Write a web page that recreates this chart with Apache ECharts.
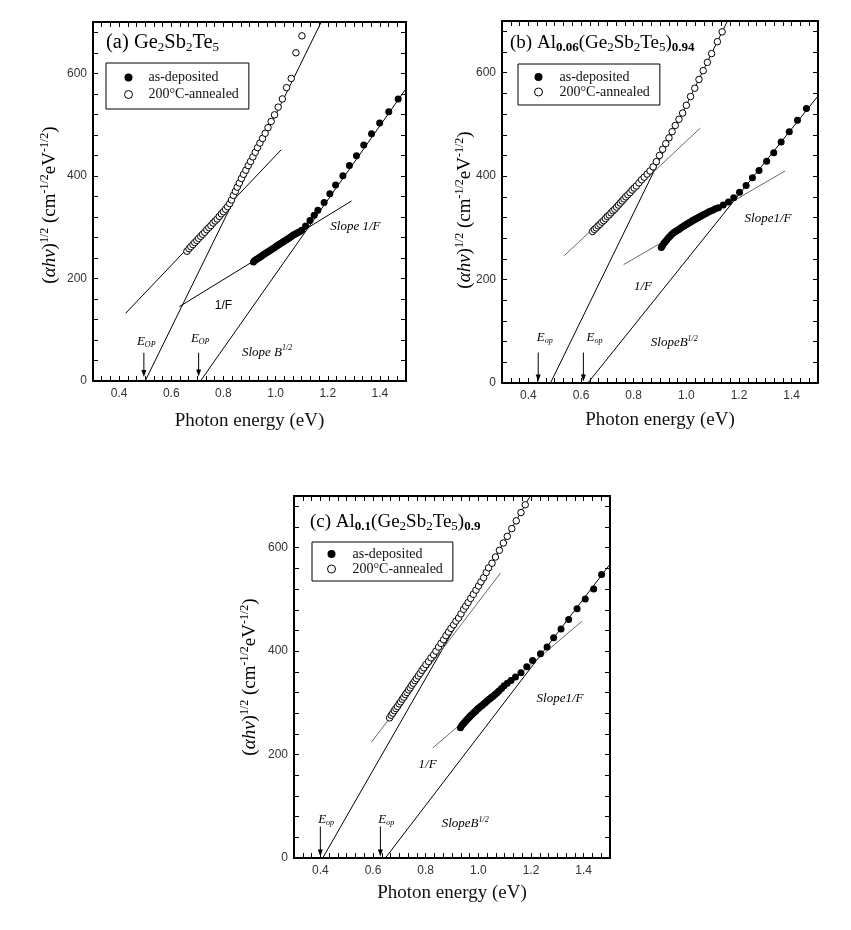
<!DOCTYPE html>
<html><head><meta charset="utf-8">
<script src="https://cdn.jsdelivr.net/npm/echarts@6/dist/echarts.min.js"></script>
<style>html,body{margin:0;padding:0;background:#fff}#c{width:851px;height:930px}</style>
</head><body><div id="c"></div>
<script>
// ---------- data ----------
const xTickLabels = ['0.4','0.6','0.8','1.0','1.2','1.4'];
const yTickLabels = ['0','200','400','600'];
const legendNames = ['as-deposited','200°C-annealed'];

// Panel (a) Ge2Sb2Te5
const annealA = [[0.660,253],[0.668,258],[0.675,262],[0.683,266],[0.690,270],[0.698,274],[0.705,278],[0.713,282],[0.720,286],[0.728,290],[0.736,295],[0.744,299],[0.752,303],[0.760,308],[0.768,312],[0.776,316],[0.784,321],[0.792,326],[0.800,330],[0.808,335],[0.816,340],[0.824,346],[0.831,353],[0.838,362],[0.846,370],[0.853,378],[0.861,386],[0.869,395],[0.877,403],[0.886,411],[0.895,420],[0.904,428],[0.913,437],[0.922,446],[0.931,455],[0.940,464],[0.950,473],[0.960,483],[0.971,494],[0.983,506],[0.996,519],[1.010,534],[1.026,550],[1.042,572],[1.060,590],[1.078,640],[1.101,673]];
const depA = [[0.915,232],[0.920,235],[0.926,237],[0.932,239],[0.938,241],[0.944,243],[0.950,245],[0.956,247],[0.962,249],[0.968,251],[0.974,253],[0.980,255],[0.986,257],[0.992,259],[0.998,261],[1.004,263],[1.010,265],[1.016,267],[1.022,269],[1.028,271],[1.034,273],[1.040,275],[1.046,277],[1.052,279],[1.058,281],[1.064,283],[1.070,285],[1.077,287],[1.084,289],[1.092,291],[1.100,294],[1.115,302],[1.132,313],[1.148,323],[1.162,333],[1.186,348],[1.208,365],[1.230,382],[1.258,400],[1.283,420],[1.310,439],[1.338,460],[1.368,482],[1.399,503],[1.434,525],[1.470,550]];
const steepAnnA = [[0.500,0],[1.175,700]];
const shallowAnnA = [[0.425,132],[1.022,451]];
const steepDepA = [[0.712,0],[1.500,570]];
const shallowDepA = [[0.631,145],[1.291,351]];

// Panel (b) Al0.06(Ge2Sb2Te5)0.94
const annealB = [[0.644,293],[0.651,297],[0.658,300],[0.665,304],[0.672,307],[0.679,311],[0.686,314],[0.693,318],[0.700,322],[0.707,325],[0.714,329],[0.721,333],[0.728,336],[0.735,340],[0.742,344],[0.749,348],[0.756,352],[0.763,356],[0.770,360],[0.778,364],[0.786,368],[0.794,373],[0.802,377],[0.810,381],[0.820,387],[0.830,393],[0.840,398],[0.851,404],[0.862,410],[0.874,418],[0.886,428],[0.898,440],[0.910,452],[0.922,463],[0.934,474],[0.946,486],[0.958,498],[0.972,510],[0.986,522],[1.000,537],[1.016,554],[1.032,570],[1.048,587],[1.064,604],[1.080,620],[1.096,637],[1.118,660],[1.136,679]];
const depB = [[0.905,262],[0.910,266],[0.915,270],[0.920,273],[0.926,277],[0.932,281],[0.938,284],[0.944,287],[0.950,290],[0.956,292],[0.962,294],[0.968,296],[0.974,298],[0.980,300],[0.986,302],[0.992,304],[0.998,306],[1.004,308],[1.010,310],[1.017,312],[1.024,314],[1.031,316],[1.038,318],[1.045,320],[1.052,322],[1.059,324],[1.066,326],[1.074,328],[1.082,330],[1.090,332],[1.100,334],[1.110,337],[1.122,339],[1.140,344],[1.160,350],[1.180,358],[1.202,369],[1.227,382],[1.251,397],[1.276,411],[1.305,429],[1.332,445],[1.360,466],[1.391,486],[1.422,508],[1.456,531]];
const steepAnnB = [[0.484,0],[1.156,700]];
const shallowAnnB = [[0.536,246],[1.053,493]];
const steepDepB = [[0.626,0],[1.500,555]];
const shallowDepB = [[0.762,229],[1.375,410]];

// Panel (c) Al0.1(Ge2Sb2Te5)0.9
const annealC = [[0.663,271],[0.669,276],[0.675,280],[0.681,285],[0.687,289],[0.693,293],[0.699,298],[0.705,302],[0.711,307],[0.717,311],[0.723,316],[0.729,320],[0.735,325],[0.741,329],[0.747,334],[0.753,338],[0.759,343],[0.765,347],[0.772,352],[0.779,357],[0.786,363],[0.793,368],[0.801,374],[0.811,380],[0.820,387],[0.830,393],[0.839,400],[0.849,408],[0.858,415],[0.868,422],[0.877,430],[0.887,437],[0.896,444],[0.906,451],[0.915,458],[0.925,464],[0.934,472],[0.944,481],[0.952,487],[0.961,494],[0.971,502],[0.981,510],[0.991,518],[1.001,526],[1.010,534],[1.020,542],[1.030,552],[1.039,561],[1.052,570],[1.065,582],[1.080,595],[1.095,609],[1.110,622],[1.127,637],[1.144,652],[1.162,668],[1.178,683]];
const depC = [[0.932,252],[0.937,256],[0.942,259],[0.947,262],[0.952,265],[0.957,268],[0.962,270],[0.967,273],[0.972,276],[0.977,278],[0.982,281],[0.987,283],[0.992,285],[0.997,288],[1.002,290],[1.008,293],[1.014,295],[1.020,298],[1.026,300],[1.032,303],[1.038,306],[1.044,308],[1.050,311],[1.056,313],[1.063,316],[1.070,319],[1.078,323],[1.088,328],[1.098,333],[1.110,338],[1.124,343],[1.141,350],[1.162,358],[1.184,370],[1.206,382],[1.236,395],[1.261,408],[1.286,426],[1.314,443],[1.343,461],[1.375,482],[1.406,501],[1.438,520],[1.468,548]];
const steepAnnC = [[0.409,0],[1.197,700]];
const shallowAnnC = [[0.594,224],[1.084,551]];
const steepDepC = [[0.647,0],[1.500,568]];
const shallowDepC = [[0.827,213],[1.394,458]];

// ---------- layout / styling ----------
const SERIF = "'Liberation Serif','Times New Roman',serif";
const SANS = "'Liberation Sans',Arial,sans-serif";
const X_MIN = 0.3, X_MAX = 1.5, Y_MIN = 0, Y_MAX = 700;

const grids = [
  {left: 93, top: 22, width: 313, height: 359},
  {left: 502, top: 21, width: 316, height: 362},
  {left: 294, top: 496, width: 316, height: 362}
];
const xNameGap = [31, 28, 26];

const panels = [
  {anneal: annealA, dep: depA, lines: [[steepAnnA,'#000'],[shallowAnnA,'#000'],[steepDepA,'#000'],[shallowDepA,'#000']]},
  {anneal: annealB, dep: depB, lines: [[steepAnnB,'#000'],[shallowAnnB,'#6a6a6a'],[steepDepB,'#000'],[shallowDepB,'#6a6a6a']]},
  {anneal: annealC, dep: depC, lines: [[steepAnnC,'#000'],[shallowAnnC,'#6a6a6a'],[steepDepC,'#000'],[shallowDepC,'#6a6a6a']]}
];

function isClose(a, b) { return Math.abs(a - b) < 1e-6; }

const xAxis = [], yAxis = [];
grids.forEach((g, i) => {
  const line = {show: true, onZero: false, lineStyle: {color: '#000', width: 2}};
  const tick = {show: true, inside: true, length: 5, lineStyle: {color: '#000', width: 1}};
  const minor = {show: true, splitNumber: 3, length: 5, lineStyle: {color: '#000', width: 1}};
  xAxis.push({
    type: 'value', gridIndex: i, position: 'bottom', min: X_MIN, max: X_MAX, interval: 0.1,
    axisLine: line, axisTick: tick, minorTick: minor, splitLine: {show: false},
    axisLabel: {margin: 7, color: '#333', fontFamily: SANS, fontSize: 12,
      formatter: v => { const s = v.toFixed(1); return (xTickLabels.includes(s) && isClose(v, parseFloat(s))) ? s : ''; }},
    name: 'Photon energy (eV)', nameLocation: 'middle', nameGap: xNameGap[i],
    nameTextStyle: {fontFamily: SERIF, fontSize: 19, color: '#111'}
  });
  xAxis.push({
    type: 'value', gridIndex: i, position: 'top', min: X_MIN, max: X_MAX, interval: 0.1,
    axisLine: line, axisTick: tick, minorTick: minor, splitLine: {show: false}, axisLabel: {show: false}
  });
  yAxis.push({
    type: 'value', gridIndex: i, position: 'left', min: Y_MIN, max: Y_MAX, interval: 40,
    axisLine: line, axisTick: tick, splitLine: {show: false},
    axisLabel: {margin: 6, color: '#333', fontFamily: SANS, fontSize: 12,
      formatter: v => { const s = String(Math.round(v)); return (yTickLabels.includes(s) && isClose(v, Math.round(v))) ? s : ''; }}
  });
  yAxis.push({
    type: 'value', gridIndex: i, position: 'right', min: Y_MIN, max: Y_MAX, interval: 40,
    axisLine: line, axisTick: tick, splitLine: {show: false}, axisLabel: {show: false}
  });
});

const series = [];
panels.forEach((p, i) => {
  p.lines.forEach(([d, col]) => {
    series.push({type: 'line', name: 'fit', xAxisIndex: 2*i, yAxisIndex: 2*i, data: d,
      symbol: 'none', showSymbol: false, silent: true, z: 2,
      lineStyle: {color: col, width: 1}});
  });
  series.push({type: 'scatter', name: legendNames[1], xAxisIndex: 2*i, yAxisIndex: 2*i, data: p.anneal,
    symbol: 'circle', symbolSize: 6.5, silent: true, z: 3,
    itemStyle: {color: '#fff', borderColor: '#000', borderWidth: 1, opacity: 1}});
  series.push({type: 'scatter', name: legendNames[0], xAxisIndex: 2*i, yAxisIndex: 2*i, data: p.dep,
    symbol: 'circle', symbolSize: 7, silent: true, z: 4,
    itemStyle: {color: '#000', opacity: 1}});
});

const legendPos = [
  {left: 106, top: 63, padding: [7, 10, 7, 18], textPad: 11, lh: 15, gap: 2},
  {left: 518, top: 64, padding: [6, 10, 6, 16], textPad: 12, lh: 14, gap: 1},
  {left: 312, top: 542, padding: [5, 10, 5, 15], textPad: 12, lh: 14, gap: 1}
];
const legend = legendPos.map(L => ({
  left: L.left, top: L.top, orient: 'vertical', selectedMode: false,
  padding: L.padding, itemGap: L.gap, itemWidth: 8, itemHeight: 8,
  borderColor: '#000', borderWidth: 1, backgroundColor: '#fff',
  textStyle: {fontFamily: SERIF, fontSize: 14, color: '#111', lineHeight: L.lh, padding: [0, 0, 0, L.textPad]},
  data: [
    {name: legendNames[0], icon: 'circle', itemStyle: {color: '#000', borderWidth: 0}},
    {name: legendNames[1], icon: 'circle', itemStyle: {color: '#fff', borderColor: '#000', borderWidth: 1}}
  ]
}));

// ---------- annotations ----------
function toPx(gi, x, y) {
  const g = grids[gi];
  return [g.left + (x - X_MIN) / (X_MAX - X_MIN) * g.width,
          g.top + g.height - (y - Y_MIN) / (Y_MAX - Y_MIN) * g.height];
}
const richBase = {
  m: {fontFamily: SERIF, fontSize: 19, lineHeight: 22, color: '#111'},
  ma: {fontFamily: SERIF, fontSize: 20.5, lineHeight: 23, color: '#111'},
  s: {fontFamily: SERIF, fontSize: 13, lineHeight: 13, padding: [12, 0, 0, 0], verticalAlign: 'bottom', color: '#111'},
  sb: {fontFamily: SERIF, fontSize: 13, fontWeight: 'bold', lineHeight: 13, padding: [12, 0, 0, 0], verticalAlign: 'bottom', color: '#111'},
  i: {fontFamily: SERIF, fontSize: 19, fontStyle: 'italic', lineHeight: 22, color: '#111'},
  up: {fontFamily: SERIF, fontSize: 12, lineHeight: 12, padding: [0, 0, 11, 0], verticalAlign: 'top', color: '#111'},
  it: {fontFamily: SERIF, fontSize: 13, fontStyle: 'italic', lineHeight: 16, color: '#333'},
  itu: {fontFamily: SERIF, fontSize: 8, fontStyle: 'italic', lineHeight: 8, padding: [0, 0, 7, 0], verticalAlign: 'top', color: '#333'},
  ite: {fontFamily: SERIF, fontSize: 13, fontStyle: 'italic', lineHeight: 14, color: '#222'},
  itd: {fontFamily: SERIF, fontSize: 8, fontStyle: 'italic', lineHeight: 8, padding: [9, 0, 0, 0], verticalAlign: 'bottom', color: '#222'},
  sans: {fontFamily: SANS, fontSize: 12, color: '#333', lineHeight: 14}
};

const titles = [
  {x: 106, y: 43, text: '{ma|(a) Ge}{s|2}{ma|Sb}{s|2}{ma|Te}{s|5}'},
  {x: 510, y: 43, text: '{m|(b) Al}{sb|0.06}{m|(Ge}{s|2}{m|Sb}{s|2}{m|Te}{s|5}{m|)}{sb|0.94}'},
  {x: 310, y: 522, text: '{m|(c) Al}{sb|0.1}{m|(Ge}{s|2}{m|Sb}{s|2}{m|Te}{s|5}{m|)}{sb|0.9}'}
];
const yNames = [{x: 50, y: 205}, {x: 465, y: 210}, {x: 250, y: 677}];
const yNameText = '{m|(}{i|αhν}{m|)}{up|1/2}{m| (cm}{up|-1/2}{m|eV}{up|-1/2}{m|)}';

// [grid, x(eV), y, text, align]
const notes = [
  [0, 1.21, 301, '{it|Slope 1/F}', 'left'],
  [0, 0.80, 146, '{sans|1/F}', 'center'],
  [0, 0.871, 56, '{it|Slope B}{itu|1/2}', 'left'],
  [0, 0.504, 76, '{ite|E}{itd|OP}', 'center'],
  [0, 0.711, 82, '{ite|E}{itd|OP}', 'center'],
  [1, 1.221, 318, '{it|Slope1/F}', 'left'],
  [1, 0.801, 186, '{it|1/F}', 'left'],
  [1, 0.865, 78, '{it|SlopeB}{itu|1/2}', 'left'],
  [1, 0.462, 88, '{ite|E}{itd|op}', 'center'],
  [1, 0.651, 88, '{ite|E}{itd|op}', 'center'],
  [2, 1.221, 308, '{it|Slope1/F}', 'left'],
  [2, 0.773, 181, '{it|1/F}', 'left'],
  [2, 0.861, 66, '{it|SlopeB}{itu|1/2}', 'left'],
  [2, 0.422, 74, '{ite|E}{itd|op}', 'center'],
  [2, 0.650, 74, '{ite|E}{itd|op}', 'center']
];
// [grid, x(eV), yStart, yEnd]
const arrows = [
  [0, 0.495, 55, 8], [0, 0.705, 55, 9],
  [1, 0.4375, 59, 3], [1, 0.609, 59, 3],
  [2, 0.400, 61, 3], [2, 0.628, 61, 3]
];

const graphic = [];
titles.forEach(t => graphic.push({type: 'text', x: t.x, y: t.y, z: 10,
  style: {text: t.text, rich: richBase, align: 'left', verticalAlign: 'middle'}}));
yNames.forEach(t => graphic.push({type: 'text', x: t.x, y: t.y, rotation: Math.PI / 2, z: 10,
  style: {text: yNameText, rich: richBase, align: 'center', verticalAlign: 'middle'}}));
notes.forEach(([gi, x, y, txt, al]) => {
  const [px, py] = toPx(gi, x, y);
  graphic.push({type: 'text', x: px, y: py, z: 10,
    style: {text: txt, rich: richBase, align: al, verticalAlign: 'middle'}});
});
arrows.forEach(([gi, x, y1, y2]) => {
  const [px, p1] = toPx(gi, x, y1);
  const [, p2] = toPx(gi, x, y2);
  graphic.push({type: 'line', z: 10, shape: {x1: px, y1: p1, x2: px, y2: p2 - 5},
    style: {stroke: '#000', lineWidth: 1}});
  graphic.push({type: 'polygon', z: 10, shape: {points: [[px - 2.5, p2 - 7], [px + 2.5, p2 - 7], [px, p2]]},
    style: {fill: '#000'}});
});

const chart = echarts.init(document.getElementById('c'), null, {renderer: 'canvas'});
chart.setOption({
  animation: false,
  backgroundColor: '#fff',
  grid: grids.map(g => Object.assign({outerBoundsMode: 'none', containLabel: false}, g)),
  xAxis, yAxis, series, legend, graphic
});
</script></body></html>
